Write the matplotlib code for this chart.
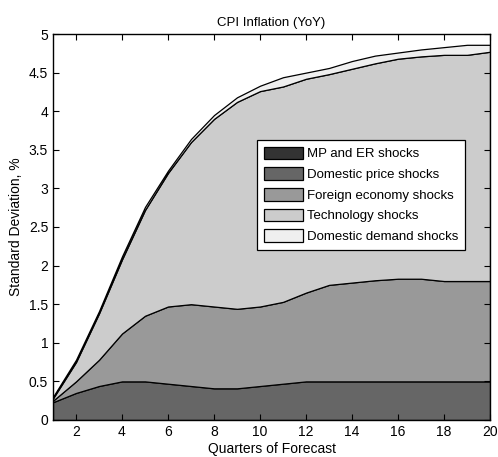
import matplotlib
matplotlib.use("Agg")
import matplotlib.pyplot as plt
import numpy as np

plt.rcParams['font.family'] = ['Liberation Sans', 'DejaVu Sans']

quarters = list(range(1, 21))
labels = ["MP and ER shocks", "Domestic price shocks", "Foreign economy shocks",
          "Technology shocks", "Domestic demand shocks"]
colors = ["#333333", "#666666", "#999999", "#cccccc", "#efefef"]

# cumulative tops of each layer
mp_top = [0.0] * 20
price_top = [0.23, 0.35, 0.44, 0.50, 0.50, 0.47, 0.44, 0.41, 0.41, 0.44,
             0.47, 0.50, 0.50, 0.50, 0.50, 0.50, 0.50, 0.50, 0.50, 0.50]
foreign_top = [0.25, 0.50, 0.78, 1.12, 1.35, 1.47, 1.50, 1.47, 1.44, 1.47,
               1.53, 1.65, 1.75, 1.78, 1.81, 1.83, 1.83, 1.80, 1.80, 1.80]
tech_top = [0.28, 0.75, 1.38, 2.08, 2.72, 3.20, 3.60, 3.90, 4.12, 4.26,
            4.32, 4.42, 4.48, 4.55, 4.62, 4.68, 4.71, 4.73, 4.73, 4.77]
demand_top = [0.30, 0.78, 1.41, 2.12, 2.76, 3.23, 3.64, 3.95, 4.18, 4.33,
              4.44, 4.50, 4.56, 4.65, 4.72, 4.76, 4.80, 4.83, 4.86, 4.86]

tops = [mp_top, price_top, foreign_top, tech_top, demand_top]

fig = plt.figure(figsize=(4.98, 4.57), dpi=100)
ax = fig.add_axes([0.1064, 0.081, 0.8776, 0.8446])

x = np.array(quarters)
bottom = np.zeros(20)
handles = []
for top, c, lab in zip(tops, colors, labels):
    t = np.array(top)
    h = ax.fill_between(x, bottom, t, facecolor=c, edgecolor='black', linewidth=0.9, label=lab)
    handles.append(h)
    bottom = t

ax.set_xlim(1, 20)
ax.set_ylim(0, 5)
ax.set_xticks([2, 4, 6, 8, 10, 12, 14, 16, 18, 20])
ax.set_yticks([0, 0.5, 1, 1.5, 2, 2.5, 3, 3.5, 4, 4.5, 5])
ax.set_yticklabels(["0", "0.5", "1", "1.5", "2", "2.5", "3", "3.5", "4", "4.5", "5"])
ax.tick_params(direction='in', top=True, right=True, labelsize=10, length=4, width=0.8)
for s in ax.spines.values():
    s.set_linewidth(1.0)

ax.set_title("CPI Inflation (YoY)", fontsize=9.5, pad=6)
ax.set_xlabel("Quarters of Forecast", fontsize=10, labelpad=2)
ax.set_ylabel("Standard Deviation, %", fontsize=10, labelpad=4)

leg = ax.legend(handles=handles, loc='upper left', bbox_to_anchor=(257/498, 1 - 140/457),
                bbox_transform=fig.transFigure, borderaxespad=0, fontsize=9.5, frameon=True,
                fancybox=False, edgecolor='black', framealpha=1, borderpad=0.5, labelspacing=0.52,
                handlelength=3.0, handleheight=1.1, handletextpad=0.3)
leg.get_frame().set_linewidth(0.9)

fig.savefig("out.png", dpi=100)
